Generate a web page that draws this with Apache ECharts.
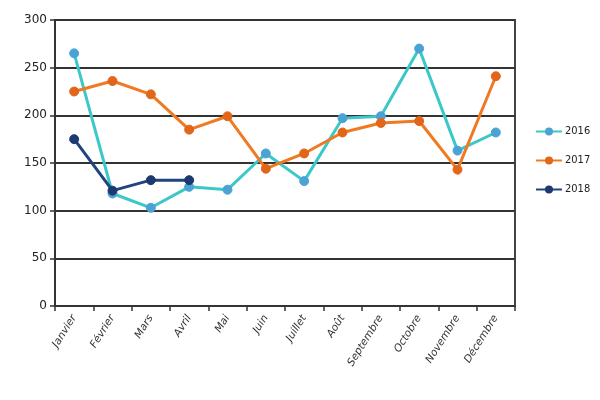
<!DOCTYPE html>
<html>
<head>
<meta charset="utf-8">
<script src="https://cdn.jsdelivr.net/npm/echarts@6/dist/echarts.min.js"></script>
<style>
  html, body { margin: 0; padding: 0; background: #fff; }
  #chart { width: 600px; height: 400px; }
</style>
</head>
<body>
<div id="chart"></div>
<script>
// --- Data ---
const months = ["Janvier", "Février", "Mars", "Avril", "Mai", "Juin", "Juillet", "Août", "Septembre", "Octobre", "Novembre", "Décembre"];
const v2016 = [265, 118, 103, 125, 122, 160, 131, 197, 199, 270, 163, 182];
const v2017 = [225, 236, 222, 185, 199, 144, 160, 182, 192, 194, 143, 241];
const v2018 = [175, 121, 132, 132];

const chart = echarts.init(document.getElementById("chart"), null, { renderer: "canvas" });

function lineSeries(name, data, lineColor, markColor) {
  return {
    name,
    type: "line",
    data,
    symbol: "circle",
    symbolSize: 9,
    lineStyle: { color: lineColor, width: 3 },
    itemStyle: { color: markColor, borderColor: markColor },
    emphasis: { disabled: true },
  };
}

chart.setOption({
  animation: false,
  grid: {
    left: 55, right: 85, top: 20, bottom: 94,
    show: true, borderColor: "#444", borderWidth: 2, backgroundColor: "transparent",
  },
  legend: {
    orient: "vertical",
    left: 535, top: 126,
    itemWidth: 26, itemHeight: 10, itemGap: 18, padding: 0,
    textStyle: { fontFamily: "DejaVu Sans Condensed", fontSize: 11, color: "#222", padding: [0, 0, 0, -2] },
    data: ["2016", "2017", "2018"],
  },
  xAxis: {
    type: "category",
    data: months,
    boundaryGap: true,
    axisLine: { lineStyle: { color: "#333", width: 2 } },
    axisTick: { show: true, length: 5, lineStyle: { color: "#333", width: 1.5 } },
    axisLabel: {
      rotate: 58, interval: 0, margin: 10,
      fontFamily: "DejaVu Sans", fontStyle: "italic", fontSize: 10.5, color: "#333",
    },
    splitLine: { show: false },
  },
  yAxis: {
    type: "value",
    min: 0, max: 300, interval: 50,
    axisLine: { show: true, lineStyle: { color: "#333", width: 2 } },
    axisTick: { show: true, length: 5, lineStyle: { color: "#333", width: 1.5 } },
    axisLabel: { fontFamily: "DejaVu Sans", fontSize: 12, color: "#222", margin: 8 },
    splitLine: { show: true, lineStyle: { color: "#333", width: 2 } },
  },
  series: [
    lineSeries("2016", v2016, "#3cc8c8", "#4ba3d4"),
    lineSeries("2017", v2017, "#f07a22", "#e2661a"),
    lineSeries("2018", v2018, "#1f4480", "#1c3a70"),
  ],
});
</script>
</body>
</html>
